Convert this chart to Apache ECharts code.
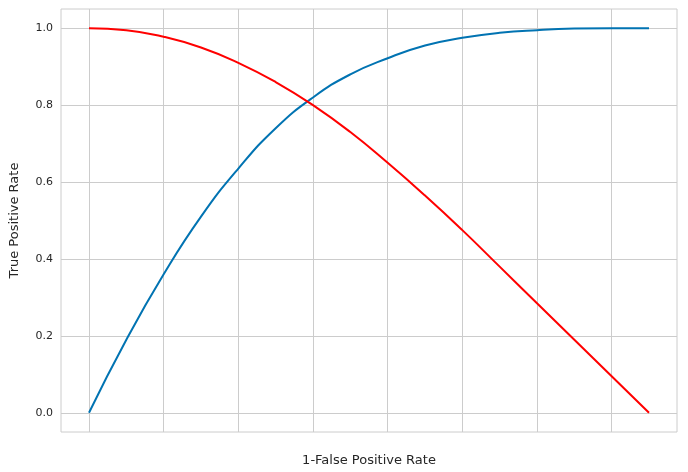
<!DOCTYPE html>
<html>
<head>
<meta charset="utf-8">
<script src="https://cdn.jsdelivr.net/npm/echarts@6/dist/echarts.min.js"></script>
<style>html,body{margin:0;background:#fff}#main{width:688px;height:472px}</style>
</head>
<body>
<div id="main"></div>
<script>
var xs = [0, 0.05, 0.1, 0.15, 0.2, 0.25, 0.3, 0.35, 0.4, 0.45, 0.5, 0.55, 0.6, 0.65, 0.7, 0.75];
var tpr = [0, 0.19, 0.36, 0.51, 0.635, 0.74, 0.82, 0.88, 0.922, 0.955, 0.975, 0.988, 0.995, 0.999, 1.0, 1.0];
var tnr = [1.0, 0.995, 0.978, 0.95, 0.91, 0.86, 0.8, 0.73, 0.65, 0.565, 0.475, 0.38, 0.285, 0.19, 0.095, 0];
var xTicks = [0, 0.1, 0.2, 0.3, 0.4, 0.5, 0.6, 0.7];
var yTicks = [0, 0.2, 0.4, 0.6, 0.8, 1.0];

function pairs(ys) { return xs.map(function (x, i) { return [x, ys[i]]; }); }

var chart = echarts.init(document.getElementById('main'));
chart.setOption({
    animation: false,
    backgroundColor: '#fff',
    grid: { left: 60, right: 11, top: 9, bottom: 40, show: true, borderColor: '#cccccc', borderWidth: 1 },
    xAxis: {
        type: 'value', min: -0.0375, max: 0.7875,
        name: '1-False Positive Rate', nameLocation: 'middle', nameGap: 22,
        nameTextStyle: { fontSize: 13, color: '#262626', fontFamily: 'DejaVu Sans' },
        axisLabel: { show: false, customValues: xTicks },
        axisLine: { show: false },
        axisTick: { show: false, customValues: xTicks },
        splitLine: { show: true, lineStyle: { color: '#cccccc', width: 1 } }
    },
    yAxis: {
        type: 'value', min: -0.05, max: 1.05,
        name: 'True Positive Rate', nameLocation: 'middle', nameGap: 40,
        nameTextStyle: { fontSize: 13, color: '#262626', fontFamily: 'DejaVu Sans' },
        axisLabel: {
            customValues: yTicks,
            color: '#262626', fontSize: 11, fontFamily: 'DejaVu Sans',
            formatter: function (v) { return v.toFixed(1); }
        },
        axisLine: { show: false },
        axisTick: { show: false, customValues: yTicks },
        splitLine: { show: true, lineStyle: { color: '#cccccc', width: 1 } }
    },
    series: [
        { type: 'line', data: pairs(tpr), smooth: true, showSymbol: false, lineStyle: { color: '#0173b2', width: 2 } },
        { type: 'line', data: pairs(tnr), smooth: true, showSymbol: false, lineStyle: { color: '#ff0000', width: 2 } }
    ]
});
</script>
</body>
</html>
